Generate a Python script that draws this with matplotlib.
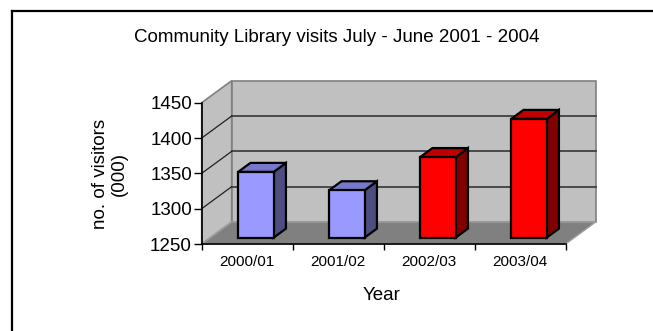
import matplotlib
matplotlib.use("Agg")
import matplotlib.pyplot as plt
from matplotlib.patches import Polygon
from matplotlib.lines import Line2D

plt.rcParams['font.family'] = ['Liberation Sans', 'DejaVu Sans']

# ---- data ----
categories = ["2000/01", "2001/02", "2002/03", "2003/04"]
visitors = [1343, 1317, 1364, 1418]
front_colors = ["#9999FF", "#9999FF", "#FF0000", "#FF0000"]
top_colors = ["#7777CC", "#7777CC", "#C00000", "#C00000"]
side_colors = ["#4D4D80", "#4D4D80", "#800000", "#800000"]
y_ticks = [1250, 1300, 1350, 1400, 1450]
title = "Community Library visits July - June 2001 - 2004"
y_label = "no. of visitors\n(000)"
x_label = "Year"

# ---- layout ----
W, H = 653, 331
fig = plt.figure(figsize=(W / 100, H / 100), dpi=100)
ax_l, ax_r, ax_t, ax_b = 201.7, 565.7, 102.7, 244.0
ax = fig.add_axes([ax_l / W, 1 - ax_b / H, (ax_r - ax_l) / W, (ax_b - ax_t) / H])
ymin, ymax = y_ticks[0], y_ticks[-1]
xmin, xmax = -0.5, len(categories) - 0.5
ax.set_xlim(xmin, xmax)
ax.set_ylim(ymin, ymax)
ax.patch.set_visible(False)

# oblique depth offset in data units (30 px right, 22 px up at full depth)
px_per_x = (ax_r - ax_l) / (xmax - xmin)
px_per_y = (ax_b - ax_t) / (ymax - ymin)
DX = 30 / px_per_x
DY = 22 / px_per_y


def P(x, v, d):
    return (x + d * DX, v + d * DY)


wall_c = "#C0C0C0"
floor_c = "#808080"
edge_gray = "#808080"

# side (left) wall
ax.add_patch(Polygon([P(xmin, ymin, 0), P(xmin, ymax, 0), P(xmin, ymax, 1), P(xmin, ymin, 1)],
                     closed=True, facecolor=wall_c, edgecolor=edge_gray, lw=1.2,
                     clip_on=False, zorder=0.5))
# back wall
ax.add_patch(Polygon([P(xmin, ymin, 1), P(xmax, ymin, 1), P(xmax, ymax, 1), P(xmin, ymax, 1)],
                     closed=True, facecolor=wall_c, edgecolor=edge_gray, lw=1.2,
                     clip_on=False, zorder=0.5))
# floor
ax.add_patch(Polygon([P(xmin, ymin, 0), P(xmax, ymin, 0), P(xmax, ymin, 1), P(xmin, ymin, 1)],
                     closed=True, facecolor=floor_c, edgecolor="#A0A0A0", lw=1.0,
                     clip_on=False, zorder=0.6))

# gridlines
for v in y_ticks[1:-1]:
    a, b = P(xmin, v, 1), P(xmax, v, 1)
    ax.plot([a[0], b[0]], [a[1], b[1]], color="#404040", lw=1.3, clip_on=False, zorder=0.7)
    a, b = P(xmin, v, 0), P(xmin, v, 1)
    ax.plot([a[0], b[0]], [a[1], b[1]], color="#202020", lw=0.9, clip_on=False, zorder=0.7)

# bars
bw = 0.39
d0, d1 = 0.29, 0.70
for i, v in enumerate(visitors):
    x0, x1 = i - bw / 2, i + bw / 2
    kw = dict(closed=True, edgecolor="black", lw=1.6, clip_on=False, joinstyle="miter")
    ax.add_patch(Polygon([P(x1, ymin, d0), P(x1, v, d0), P(x1, v, d1), P(x1, ymin, d1)],
                         facecolor=side_colors[i], zorder=3, **kw))
    ax.add_patch(Polygon([P(x0, v, d0), P(x1, v, d0), P(x1, v, d1), P(x0, v, d1)],
                         facecolor=top_colors[i], zorder=3, **kw))
    ax.add_patch(Polygon([P(x0, ymin, d0), P(x1, ymin, d0), P(x1, v, d0), P(x0, v, d0)],
                         facecolor=front_colors[i], zorder=4, **kw))

# axes, ticks
for s in ["top", "right"]:
    ax.spines[s].set_visible(False)
for s in ["left", "bottom"]:
    ax.spines[s].set_color("black")
    ax.spines[s].set_linewidth(1.2)
    ax.spines[s].set_zorder(2)

ax.set_yticks(y_ticks)
ax.set_yticklabels([str(t) for t in y_ticks], fontsize=13.5)
ax.tick_params(axis="y", length=5.5, width=1, pad=1.5, color="black")

ax.set_xticks([i - 0.5 for i in range(len(categories) + 1)])
ax.set_xticklabels([""] * (len(categories) + 1))
ax.tick_params(axis="x", which="major", length=4.5, width=1, color="black")
ax.set_xticks(range(len(categories)), minor=True)
ax.set_xticklabels(categories, minor=True, fontsize=11)
ax.tick_params(axis="x", which="minor", length=0, pad=8)

# texts
fig.text(337 / W, 1 - 41.7 / H, title, ha="center", va="baseline", fontsize=13.5)
fig.text(382 / W, 1 - 300 / H, x_label, ha="center", va="baseline", fontsize=13.5)
fig.text(110 / W, 1 - 174 / H, y_label, ha="center", va="center", rotation=90,
         fontsize=13.5, linespacing=1.2, multialignment="center")

# outer frame (top and left edges visible)
fig.add_artist(Line2D([12 / W, 12 / W], [0, 1 - 11 / H], transform=fig.transFigure,
                      color="black", lw=1.6))
fig.add_artist(Line2D([12 / W, 1], [1 - 11 / H, 1 - 11 / H], transform=fig.transFigure,
                      color="black", lw=1.6))

fig.savefig("out.png", dpi=100)
